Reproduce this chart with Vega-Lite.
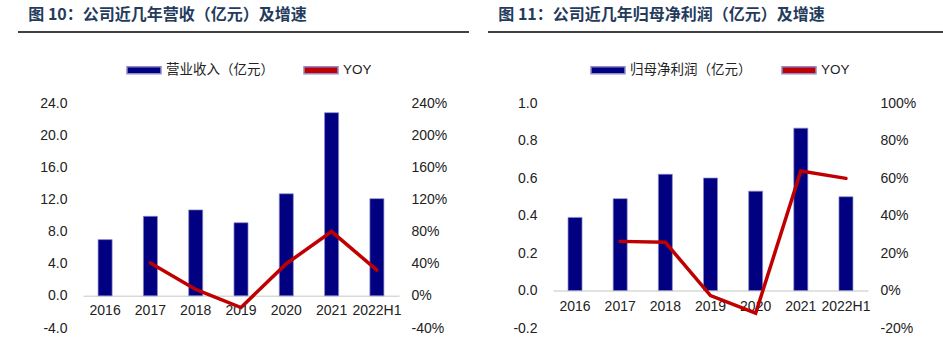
{
  "$schema": "https://vega.github.io/schema/vega-lite/v6.json",
  "padding": {"left": 17, "top": 7, "right": 0, "bottom": 0},
  "background": "white",
  "config": {
    "locale": {"number": {"decimal": ".", "thousands": ",", "grouping": [3], "currency": ["", ""], "minus": "-"}},
    "view": {"stroke": null},
    "axis": {"grid": false, "labelFont": "Liberation Sans", "labelFontSize": 14, "labelColor": "#222222", "domain": false, "ticks": false},
    "title": {"font": "Noto Sans CJK SC", "fontSize": 16, "fontWeight": "bold", "color": "#243B5C", "anchor": "start", "frame": "bounds"}
  },
  "datasets": {
    "rev": [
      {"year": "2016", "rev": 7.0, "yoy": null},
      {"year": "2017", "rev": 9.9, "yoy": 0.41},
      {"year": "2018", "rev": 10.7, "yoy": 0.08},
      {"year": "2019", "rev": 9.1, "yoy": -0.145},
      {"year": "2020", "rev": 12.7, "yoy": 0.40},
      {"year": "2021", "rev": 22.8, "yoy": 0.80},
      {"year": "2022H1", "rev": 12.1, "yoy": 0.32}
    ],
    "np": [
      {"year": "2016", "np": 0.39, "yoy": null},
      {"year": "2017", "np": 0.49, "yoy": 0.262},
      {"year": "2018", "np": 0.62, "yoy": 0.257},
      {"year": "2019", "np": 0.60, "yoy": -0.027},
      {"year": "2020", "np": 0.53, "yoy": -0.121},
      {"year": "2021", "np": 0.866, "yoy": 0.637},
      {"year": "2022H1", "np": 0.50, "yoy": 0.598}
    ],
    "line": [{"v": 0}]
  },
  "spacing": 19,
  "vconcat": [
    {
      "spacing": 17,
      "hconcat": [
        {
          "width": 316, "height": 1,
          "data": {"name": "line"},
          "title": {"text": "图 10：公司近几年营收（亿元）及增速", "dx": 11, "offset": 8},
          "mark": {"type": "rule", "color": "#000000", "strokeWidth": 1.5, "clip": false},
          "encoding": {
            "x": {"datum": -65, "type": "quantitative", "scale": {"domain": [0, 316]}, "axis": null},
            "x2": {"datum": 386},
            "y": {"field": "v", "type": "quantitative", "scale": {"domain": [0, 1]}, "axis": null}
          }
        },
        {
          "width": 315, "height": 1,
          "data": {"name": "line"},
          "title": {"text": "图 11：公司近几年归母净利润（亿元）及增速", "dx": 11, "offset": 8},
          "mark": {"type": "rule", "color": "#000000", "strokeWidth": 1.5, "clip": false},
          "encoding": {
            "x": {"datum": -67, "type": "quantitative", "scale": {"domain": [0, 315]}, "axis": null},
            "x2": {"datum": 389},
            "y": {"field": "v", "type": "quantitative", "scale": {"domain": [0, 1]}, "axis": null}
          }
        }
      ]
    },
    {
      "spacing": 17,
      "resolve": {"scale": {"color": "independent"}, "legend": {"color": "independent"}},
      "hconcat": [
        {
          "width": 316, "height": 225,
          "data": {"name": "rev"},
          "encoding": {
            "x": {"field": "year", "type": "ordinal", "sort": null,
              "scale": {"paddingInner": 0.69, "paddingOuter": 0.333},
              "axis": {"orient": "bottom", "offset": -32.14, "title": null, "labelAngle": 0, "domain": true, "domainColor": "#D9D9D9", "domainWidth": 1.5, "labelPadding": 8}}
          },
          "layer": [
            {
              "mark": {"type": "bar", "stroke": "#8C8CC8", "strokeWidth": 0.7},
              "encoding": {
                "y": {"field": "rev", "type": "quantitative", "scale": {"domain": [-4, 24]},
                  "axis": {"orient": "left", "values": [-4, 0, 4, 8, 12, 16, 20, 24], "format": ".1f", "title": null, "labelPadding": 16, "minExtent": 65, "maxExtent": 65}},
                "color": {"datum": "营业收入（亿元）", "type": "nominal",
                  "scale": {"domain": ["营业收入（亿元）", "YOY"], "range": ["#000080", "#C00000"]},
                  "legend": {"title": null, "orient": "none", "legendX": 43, "legendY": -51, "direction": "horizontal",
                    "symbolType": "M-1,-0.206H1V0.206H-1Z", "symbolSize": 1156,
                    "labelFont": "Liberation Sans, Noto Sans CJK SC", "labelFontSize": 13.5, "labelColor": "#222222", "labelOffset": 4, "columnPadding": 27,
                    "encode": {"symbols": {"update": {
                      "shape": {"signal": "datum.value === 'YOY' ? 'M-1.09,-0.085H1.09V0.085H-1.09Z' : 'M-1,-0.206H1V0.206H-1Z'"},
                      "fill": {"signal": "datum.value === 'YOY' ? '#C00000' : '#000080'"},
                      "strokeWidth": {"value": 0},
                      "opacity": {"value": 1}}}}}}
              }
            },
            {
              "mark": {"type": "line", "color": "#C00000", "strokeWidth": 3.5, "strokeCap": "round"},
              "encoding": {
                "y": {"field": "yoy", "type": "quantitative", "scale": {"domain": [-0.4, 2.4]},
                  "axis": {"orient": "right", "values": [-0.4, 0, 0.4, 0.8, 1.2, 1.6, 2.0, 2.4], "format": ".0%", "title": null, "labelPadding": 12, "minExtent": 70, "maxExtent": 70}}
              }
            }
          ],
          "resolve": {"scale": {"y": "independent"}}
        },
        {
          "width": 315, "height": 225,
          "data": {"name": "np"},
          "encoding": {
            "x": {"field": "year", "type": "ordinal", "sort": null,
              "scale": {"paddingInner": 0.69, "paddingOuter": 0.333},
              "axis": {"orient": "bottom", "offset": -37.5, "title": null, "labelAngle": 0, "domain": true, "domainColor": "#D9D9D9", "domainWidth": 1.5, "labelPadding": 9}}
          },
          "layer": [
            {
              "mark": {"type": "bar", "stroke": "#8C8CC8", "strokeWidth": 0.7},
              "encoding": {
                "y": {"field": "np", "type": "quantitative", "scale": {"domain": [-0.2, 1.0]},
                  "axis": {"orient": "left", "values": [-0.2, 0, 0.2, 0.4, 0.6, 0.8, 1.0], "format": ".1f", "title": null, "labelPadding": 16, "minExtent": 67, "maxExtent": 67}},
                "color": {"datum": "归母净利润（亿元）", "type": "nominal",
                  "scale": {"domain": ["归母净利润（亿元）", "YOY"], "range": ["#000080", "#C00000"]},
                  "legend": {"title": null, "orient": "none", "legendX": 37, "legendY": -51, "direction": "horizontal",
                    "symbolType": "M-1,-0.206H1V0.206H-1Z", "symbolSize": 1156,
                    "labelFont": "Liberation Sans, Noto Sans CJK SC", "labelFontSize": 13.5, "labelColor": "#222222", "labelOffset": 4, "columnPadding": 27,
                    "encode": {"symbols": {"update": {
                      "shape": {"signal": "datum.value === 'YOY' ? 'M-1.09,-0.085H1.09V0.085H-1.09Z' : 'M-1,-0.206H1V0.206H-1Z'"},
                      "fill": {"signal": "datum.value === 'YOY' ? '#C00000' : '#000080'"},
                      "strokeWidth": {"value": 0},
                      "opacity": {"value": 1}}}}}}
              }
            },
            {
              "mark": {"type": "line", "color": "#C00000", "strokeWidth": 3.5, "strokeCap": "round"},
              "encoding": {
                "y": {"field": "yoy", "type": "quantitative", "scale": {"domain": [-0.2, 1.0]},
                  "axis": {"orient": "right", "values": [-0.2, 0, 0.2, 0.4, 0.6, 0.8, 1.0], "format": ".0%", "title": null, "labelPadding": 12, "minExtent": 50, "maxExtent": 50}}
              }
            }
          ],
          "resolve": {"scale": {"y": "independent"}}
        }
      ]
    }
  ]
}
